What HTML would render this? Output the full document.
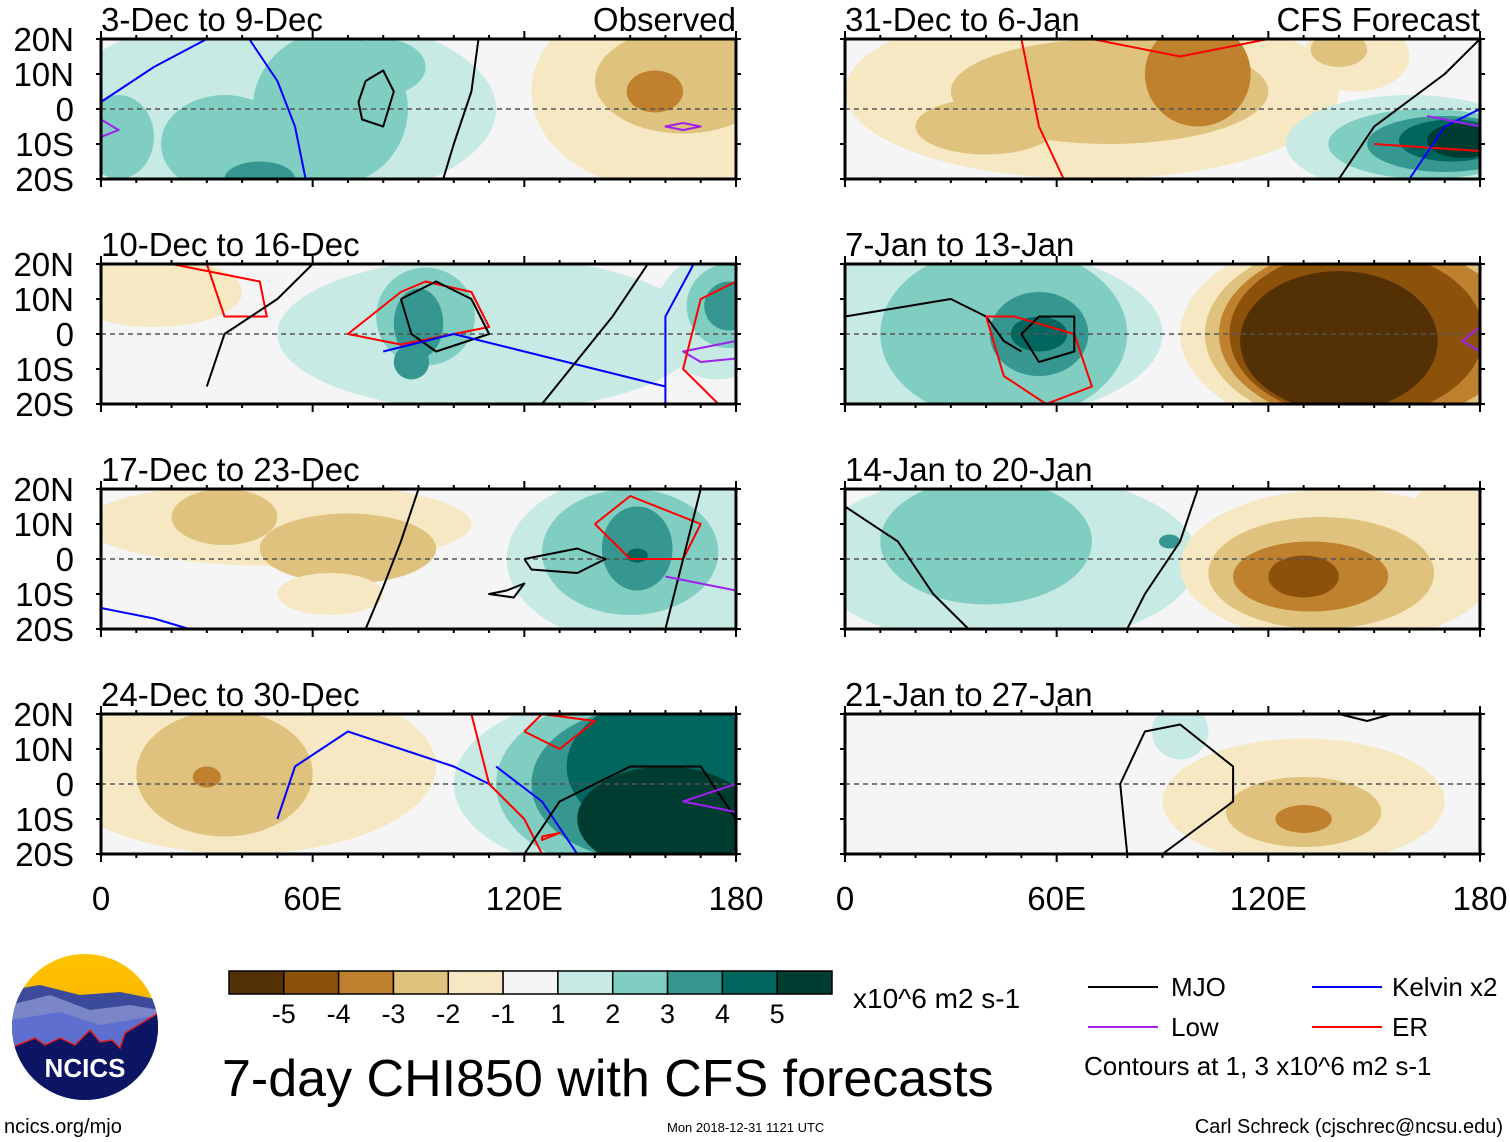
<!DOCTYPE html>
<html><head><meta charset="utf-8"><style>
body{margin:0;background:#fff;}
svg{display:block;font-family:"Liberation Sans",sans-serif;}
</style></head><body>
<svg id="s" width="1510" height="1142" viewBox="0 0 1510 1142" xmlns="http://www.w3.org/2000/svg">
<defs>
<clipPath id="logoclip"><circle cx="85" cy="1027" r="73"/></clipPath>
<linearGradient id="sun" x1="0" y1="0" x2="0" y2="1"><stop offset="0" stop-color="#ffc400"/><stop offset="1" stop-color="#f0a000"/></linearGradient>
</defs>
<g id="panels"></g>
<g id="logo" clip-path="url(#logoclip)">
<rect x="10" y="950" width="150" height="160" fill="url(#sun)"/>
<path d="M10 990 L40 985 L80 995 L120 992 L160 1000 L160 1110 L10 1110Z" fill="#3b4a9a"/>
<path d="M10 1005 L50 995 L90 1010 L130 1005 L160 1010 L160 1110 L10 1110Z" fill="#7a86c8"/>
<path d="M10 1020 L60 1012 L100 1025 L160 1015 L160 1110 L10 1110Z" fill="#5e6fd0"/>
<path d="M10 1048 L35 1038 L45 1045 L60 1038 L75 1045 L90 1030 L100 1042 L112 1040 L120 1048 L125 1033 L160 1012 L160 1110 L10 1110Z" fill="#0c1464" stroke="#e02020" stroke-width="1.5"/>
</g>
<text x="85" y="1077" text-anchor="middle" font-size="26" font-weight="bold" fill="#fff">NCICS</text>
<text x="4" y="1133" font-size="20">ncics.org/mjo</text>
<g id="cbar"></g>
<text x="853" y="1008" font-size="28">x10^6 m2 s-1</text>
<text x="222" y="1096" font-size="52">7-day CHI850 with CFS forecasts</text>
<text x="667" y="1132" font-size="13">Mon 2018-12-31 1121 UTC</text>
<text x="1503" y="1133" font-size="20" text-anchor="end">Carl Schreck (cjschrec@ncsu.edu)</text>
<g font-size="26">
<line x1="1088" y1="987" x2="1158" y2="987" stroke="#000" stroke-width="2"/>
<text x="1171" y="996">MJO</text>
<line x1="1312" y1="987" x2="1382" y2="987" stroke="#0000ff" stroke-width="2"/>
<text x="1392" y="996">Kelvin x2</text>
<line x1="1088" y1="1027" x2="1158" y2="1027" stroke="#a020f0" stroke-width="2"/>
<text x="1171" y="1036">Low</text>
<line x1="1312" y1="1027" x2="1382" y2="1027" stroke="#ff0000" stroke-width="2"/>
<text x="1392" y="1036">ER</text>
<text x="1084" y="1075">Contours at 1, 3 x10^6 m2 s-1</text>
</g>
</svg>
<script>
const NS="http://www.w3.org/2000/svg";
const levelLabels=["-5","-4","-3","-2","-1","1","2","3","4","5"];
const levelColors={"-5":"#543005","-4":"#8c510a","-3":"#bf812d","-2":"#dfc27d","-1":"#f6e8c3","0":"#f5f5f5","1":"#c7eae5","2":"#80cdc1","3":"#35978f","4":"#01665e","5":"#003c30"};
const cbarLevels=[-5,-4,-3,-2,-1,0,1,2,3,4,5];
const panelTitles=["3-Dec to 9-Dec","10-Dec to 16-Dec","17-Dec to 23-Dec","24-Dec to 30-Dec","31-Dec to 6-Jan","7-Jan to 13-Jan","14-Jan to 20-Jan","21-Jan to 27-Jan"];
const latTicks=["20N","10N","0","10S","20S"];
const lonTicks=["0","60E","120E","180"];
// anomaly blobs: [lon, lat, lonRadius, latRadius, level]
const blobs0=[[50,0,62,28,1],[65,0,22,22,2],[35,-10,18,14,2],[5,-8,10,12,2],[80,12,12,8,2],[45,-20,10,5,3],[160,5,38,28,-1],[165,8,25,15,-2],[157,5,8,6,-3]];
const blobs1=[[15,12,25,10,-1],[110,0,60,22,1],[92,5,14,14,2],[90,3,7,10,3],[88,-8,5,5,3],[175,5,18,18,1],[178,8,12,12,2],[178,8,7,7,3]];
const blobs2=[[50,10,55,12,-1],[70,3,25,10,-2],[35,12,15,8,-2],[65,-10,15,6,-1],[155,0,40,25,1],[150,2,25,18,2],[152,3,10,12,3],[152,1,3,2,4]];
const blobs3=[[40,5,55,25,-1],[35,3,25,18,-2],[30,2,4,3,-3],[145,0,45,25,1],[150,0,38,25,2],[155,0,33,22,3],[160,5,28,20,4],[160,-10,25,15,5]];
const blobs4=[[70,5,70,25,-1],[75,5,45,15,-2],[40,-5,20,8,-2],[100,10,15,15,-3],[160,-10,35,14,1],[165,-10,28,10,2],[170,-10,22,8,3],[172,-9,15,6,4],[175,-9,10,5,5],[145,15,15,10,-1],[140,17,8,5,-2]];
const blobs5=[[35,0,55,25,1],[45,0,35,25,2],[55,0,14,12,3],[55,0,8,5,4],[150,0,55,30,-1],[150,0,48,28,-2],[148,0,42,26,-3],[145,0,36,24,-4],[140,-2,28,20,-5]];
const blobs6=[[45,0,55,25,1],[40,5,30,18,2],[175,10,15,15,-1],[140,-2,45,22,-1],[135,-4,32,16,-2],[132,-5,22,10,-3],[130,-5,10,6,-4],[92,5,3,2,3]];
const blobs7=[[130,-5,40,18,-1],[130,-8,22,10,-2],[130,-10,8,4,-3],[95,15,8,8,1]];
const allBlobs=[blobs0,blobs1,blobs2,blobs3,blobs4,blobs5,blobs6,blobs7];
// contour lines: [type, [lon,lat] pairs]
const lines0=[["kelvin",[[0,2],[15,12],[30,20]]],["kelvin",[[42,20],[50,8],[55,-5],[58,-20]]],["mjo",[[75,8],[80,11],[83,5],[80,-5],[74,-3],[73,2],[75,8]]],["mjo",[[107,20],[105,5],[100,-10],[97,-20]]],["low",[[0,-3],[5,-6],[0,-8]]],["low",[[165,-4],[170,-5],[165,-6],[160,-5],[165,-4]]]];
const lines1=[["er",[[20,20],[45,15],[47,5],[35,5],[30,20]]],["mjo",[[30,-15],[35,0],[50,10],[60,20]]],["er",[[85,12],[70,0],[85,-3],[110,2],[105,12],[92,15],[85,12]]],["mjo",[[85,10],[95,15],[105,10],[110,0],[95,-5],[88,0],[85,10]]],["kelvin",[[80,-5],[100,0],[120,-5],[140,-10],[160,-15]]],["mjo",[[125,-20],[145,5],[155,20]]],["kelvin",[[160,-20],[160,5],[168,20]]],["low",[[180,-2],[165,-5],[170,-8],[180,-7]]],["er",[[180,15],[170,10],[165,-10],[175,-20]]]];
const lines2=[["mjo",[[75,-20],[80,-8],[85,5],[90,20]]],["mjo",[[120,0],[135,3],[143,0],[135,-4],[122,-3],[120,0]]],["mjo",[[115,-9],[120,-7],[117,-11],[110,-10],[115,-9]]],["er",[[140,10],[150,18],[170,10],[165,0],[150,0],[140,10]]],["mjo",[[160,-20],[165,0],[170,20]]],["low",[[160,-5],[180,-9]]],["kelvin",[[0,-14],[15,-17],[25,-20]]]];
const lines3=[["kelvin",[[50,-10],[55,5],[70,15],[85,10],[100,5],[110,0]]],["er",[[105,20],[110,0],[120,-10],[125,-20]]],["kelvin",[[112,5],[125,-5],[135,-20]]],["er",[[120,15],[125,20],[140,18],[130,10],[120,15]]],["mjo",[[120,-20],[130,-5],[150,5],[170,5],[180,-10]]],["low",[[180,-8],[165,-5],[180,0]]],["er",[[125,-15],[130,-14],[125,-16],[125,-15]]]];
const lines4=[["er",[[50,20],[55,-5],[62,-20]]],["er",[[70,20],[95,15],[120,20]]],["mjo",[[140,-20],[150,-5],[170,10],[180,20]]],["er",[[150,-10],[180,-12]]],["kelvin",[[160,-20],[170,-5],[180,0]]],["low",[[165,-2],[180,-5]]]];
const lines5=[["mjo",[[0,5],[30,10],[40,5],[45,-2],[50,-5]]],["er",[[40,5],[48,5],[65,0],[70,-15],[57,-20],[45,-12],[40,5]]],["mjo",[[50,0],[55,5],[65,5],[65,-5],[55,-8],[50,0]]],["low",[[180,2],[175,-2],[180,-5]]]];
const lines6=[["mjo",[[0,15],[15,5],[25,-10],[35,-20]]],["mjo",[[100,20],[95,5],[85,-10],[80,-20]]]];
const lines7=[["mjo",[[80,-20],[78,0],[85,15],[95,17],[110,5],[110,-5],[90,-20]]],["mjo",[[140,20],[148,18],[155,20]]]];
const allLines=[lines0,lines1,lines2,lines3,lines4,lines5,lines6,lines7];
const lineColors={mjo:"#000",kelvin:"#0000ff",low:"#a020f0",er:"#ff0000"};

const colX=[101,845], rowY=[39,264,489,714], PW=635, PH=140;
function el(t,a,p){const e=document.createElementNS(NS,t);for(const k in a)e.setAttribute(k,a[k]);if(p)p.appendChild(e);return e;}
const root=document.getElementById('panels');
const defs=document.querySelector('defs');
for(let i=0;i<8;i++){
  const x0=colX[i<4?0:1], y0=rowY[i%4];
  const xs=lon=>x0+lon/180*PW, ys=lat=>y0+(20-lat)/40*PH;
  const cp=el('clipPath',{id:'cp'+i},defs); el('rect',{x:x0,y:y0,width:PW,height:PH},cp);
  const g=el('g',{},root);
  
  
  const inner=el('g',{'clip-path':'url(#cp'+i+')'},g);
  el('rect',{x:x0,y:y0,width:PW,height:PH,fill:levelColors["0"]},inner);
  allBlobs[i].forEach(b=>{
    const e=el('ellipse',{cx:xs(b[0]),cy:ys(b[1]),rx:b[2]/180*PW,ry:b[3]/40*PH,fill:levelColors[String(b[4])]},inner);
    
    
  });
  el('line',{x1:x0,y1:ys(0),x2:x0+PW,y2:ys(0),stroke:'#555','stroke-width':1.5,'stroke-dasharray':'5,4'},inner);
  allLines[i].forEach(l=>{
    const d=l[1].map((p,k)=>(k?'L':'M')+xs(p[0]).toFixed(1)+' '+ys(p[1]).toFixed(1)).join(' ');
    const e=el('path',{d:d,fill:'none',stroke:lineColors[l[0]],'stroke-width':2,'stroke-linejoin':'round'},inner);
    
    
  });
  el('rect',{x:x0,y:y0,width:PW,height:PH,fill:'none',stroke:'#000','stroke-width':3},g);
  for(let lon=0;lon<=180;lon+=10){const L=lon%60==0?8:4;
    el('line',{x1:xs(lon),y1:y0+PH,x2:xs(lon),y2:y0+PH+L,stroke:'#000','stroke-width':2},g);
    el('line',{x1:xs(lon),y1:y0,x2:xs(lon),y2:y0-L,stroke:'#000','stroke-width':2},g);}
  for(let lat=-20;lat<=20;lat+=10){
    el('line',{x1:x0-5,y1:ys(lat),x2:x0,y2:ys(lat),stroke:'#000','stroke-width':2},g);
    el('line',{x1:x0+PW,y1:ys(lat),x2:x0+PW+5,y2:ys(lat),stroke:'#000','stroke-width':2},g);}
  const t=el('text',{x:x0,y:y0-8,'font-size':33},g); t.textContent=panelTitles[i];
  
  
  if(i==0){const r=el('text',{x:x0+PW,y:y0-8,'font-size':33,'text-anchor':'end'},g);r.textContent='Observed';
    
    }
  if(i==4){const r=el('text',{x:x0+PW,y:y0-8,'font-size':33,'text-anchor':'end'},g);r.textContent='CFS Forecast';
    
    }
  if(i<4) latTicks.forEach((s,k)=>{const tt=el('text',{x:74,y:ys(20-k*10)+12,'font-size':33,'text-anchor':'end'},g);tt.textContent=s;
    
    });
  if(i%4==3) lonTicks.forEach((s,k)=>{const tt=el('text',{x:xs(k*60),y:910,'font-size':33,'text-anchor':'middle'},g);tt.textContent=s;
    
    });
}
const cb=document.getElementById('cbar');const bw=603/11;
cbarLevels.forEach((v,k)=>{const r=el('rect',{x:229+k*bw,y:971,width:bw,height:23,fill:levelColors[String(v)],stroke:'#000','stroke-width':1.5},cb);
  
  });
levelLabels.forEach((s,k)=>{const t=el('text',{x:229+(k+1)*bw,y:1023,'font-size':27,'text-anchor':'middle'},cb);t.textContent=s;
  
  });
</script>
</body></html>
